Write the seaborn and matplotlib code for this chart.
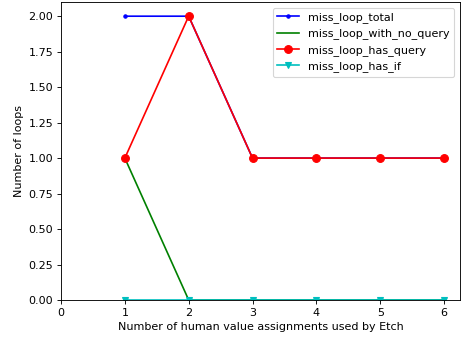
import matplotlib
matplotlib.use("Agg")
import matplotlib.pyplot as plt
import seaborn as sns
import pandas as pd

assignments = [1, 2, 3, 4, 5, 6]
miss_loop_total = [2, 2, 1, 1, 1, 1]
miss_loop_with_no_query = [1, 0, 0, 0, 0, 0]
miss_loop_has_query = [1, 2, 1, 1, 1, 1]
miss_loop_has_if = [0, 0, 0, 0, 0, 0]

plt.rcParams["font.family"] = ["DejaVu Sans"]

DPI = 80
fig = plt.figure(figsize=(461 / DPI, 340 / DPI), dpi=DPI)
ax = fig.add_axes([61 / 461, 40 / 340, 399 / 461, 298 / 340])

series = [
    ("miss_loop_total", miss_loop_total, "b", ".", 6),
    ("miss_loop_with_no_query", miss_loop_with_no_query, "g", None, 6),
    ("miss_loop_has_query", miss_loop_has_query, "r", "o", 7),
    ("miss_loop_has_if", miss_loop_has_if, "c", "v", 6),
]

for name, values, color, marker, ms in series:
    df = pd.DataFrame({"x": assignments, "y": values})
    kws = dict(color=color, label=name, linewidth=1.5, ax=ax)
    if marker is not None:
        kws.update(marker=marker, markersize=ms, markeredgecolor=color,
                   markerfacecolor=color, markeredgewidth=1)
    sns.lineplot(data=df, x="x", y="y", **kws)

ax.set_xlim(0, 6.25)
ax.set_ylim(0, 2.1)
yticks = [0, 0.25, 0.5, 0.75, 1.0, 1.25, 1.5, 1.75, 2.0]
ax.set_yticks(yticks)
ax.set_yticklabels([f"{v:.2f}" for v in yticks])
ax.set_xticks(range(0, 7))
ax.set_xlabel("Number of human value assignments used by Etch")
ax.set_ylabel("Number of loops")
ax.legend(loc="upper right")

fig.savefig("out.png", dpi=DPI)
